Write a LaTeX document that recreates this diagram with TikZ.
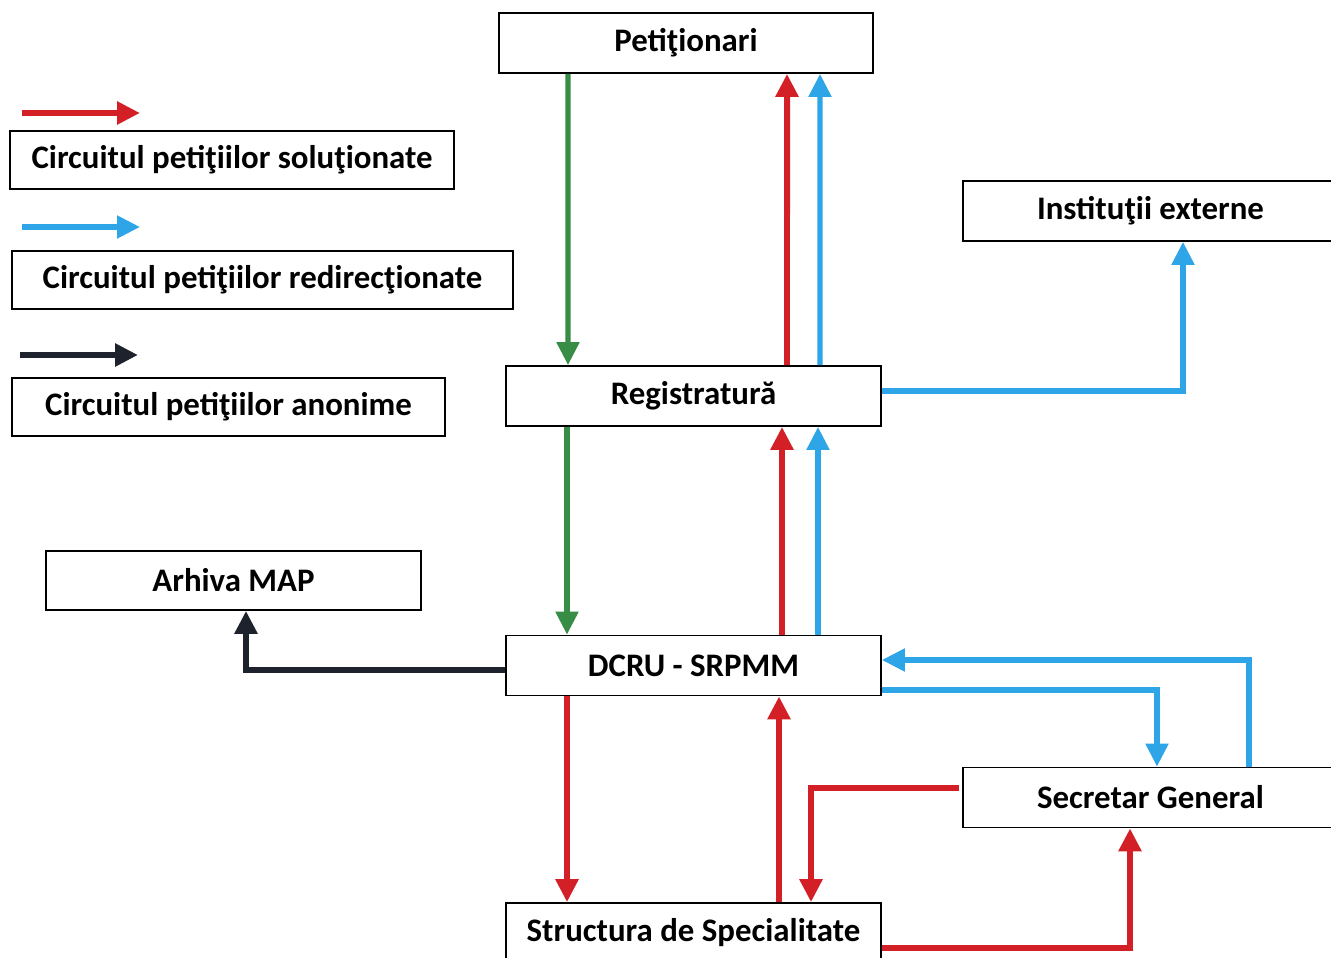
\documentclass[tikz,border=0pt]{standalone}
\usepackage{fontspec}
\setmainfont{Carlito}
\usepackage{tikz}
\usetikzlibrary{arrows.meta, positioning, calc}
\definecolor{solred}{RGB}{210,32,38}
\definecolor{redirblue}{RGB}{45,165,230}
\definecolor{flowgreen}{RGB}{55,140,70}
\definecolor{anonblack}{RGB}{30,34,44}
\tikzset{
  box/.style={rectangle, draw=black, line width=1pt, fill=white, minimum width=7.5cm,
    minimum height=1.2cm, align=center, inner sep=0pt, font=\fontsize{18.7}{22}\selectfont\bfseries},
  legbox/.style={box, minimum height=1.17cm},
  tip/.style={-{Triangle[width=0.44cm, length=0.46cm]}},
  redarr/.style={tip, line width=3.4pt, solred},
  bluearr/.style={tip, line width=2.9pt, redirblue},
  greenarr/.style={tip, line width=2.9pt, flowgreen},
  blackarr/.style={tip, line width=3.4pt, anonblack},
}
\begin{document}
\begin{tikzpicture}
\useasboundingbox (0,0) rectangle (26.62,-19.14);
\clip (0,0) rectangle (26.62,-19.14);

% ── Legend ──
\coordinate (lr1) at (0.44,-2.26);  \coordinate (lr2) at (2.80,-2.26);
\coordinate (lb1) at (0.44,-4.54);  \coordinate (lb2) at (2.80,-4.54);
\coordinate (lk1) at (0.40,-7.10);  \coordinate (lk2) at (2.76,-7.10);
\node[legbox, minimum width=8.88cm] (legsol) at (4.64,-3.20) {Circuitul petiţiilor soluţionate};
\node[legbox, minimum width=10.02cm] (legred) at (5.25,-5.60) {Circuitul petiţiilor redirecţionate};
\node[legbox, minimum width=8.66cm] (leganon) at (4.57,-8.14) {Circuitul petiţiilor anonime};
\draw[redarr] (lr1) -- (lr2);
\draw[bluearr] (lb1) -- (lb2);
\draw[blackarr] (lk1) -- (lk2);

% ── Main column ──
\node[box, minimum width=7.48cm] (pet) at (13.72,-0.86) {Petiţionari};
\node[box] (reg) at (13.87,-7.92) {Registratură};
\node[box] (dcru) at (13.87,-13.31) {DCRU - SRPMM};
\node[box] (struct) at (13.87,-18.66) {Structura de Specialitate};

% ── Side boxes ──
\node[box, minimum height=1.18cm] (arhiva) at (4.67,-11.61) {Arhiva MAP};
\node[box] (inst) at (23.01,-4.22) {Instituţii externe};
\node[box] (secr) at (23.01,-15.95) {Secretar General};

% ── Arrows ──
\draw[greenarr] ([xshift=-2.36cm]pet.south) -- ([xshift=-2.51cm]reg.north);
\draw[redarr] ([xshift=1.87cm]reg.north) -- ([xshift=2.02cm]pet.south);
\draw[bluearr] ([xshift=2.53cm]reg.north) -- ([xshift=2.68cm]pet.south);
\draw[bluearr] ([yshift=0.10cm]reg.east) -| ([xshift=0.65cm]inst.south);
\draw[greenarr] ([xshift=-2.53cm]reg.south) -- ([xshift=-2.53cm]dcru.north);
\draw[redarr] ([xshift=1.77cm]dcru.north) -- ([xshift=1.77cm]reg.south);
\draw[bluearr] ([xshift=2.49cm]dcru.north) -- ([xshift=2.49cm]reg.south);
\draw[blackarr] ([yshift=-0.09cm]dcru.west) -| ([xshift=0.25cm]arhiva.south);
\draw[bluearr] ([xshift=1.97cm]secr.north) |- ([yshift=0.11cm]dcru.east);
\draw[bluearr] ([yshift=-0.49cm]dcru.east) -| ([xshift=0.13cm]secr.north);
\draw[redarr] ([xshift=-2.53cm]dcru.south) -- ([xshift=-2.53cm]struct.north);
\draw[redarr] ([xshift=1.71cm]struct.north) -- ([xshift=1.71cm]dcru.south);
\draw[redarr] ([xshift=-0.06cm,yshift=0.19cm]secr.west) -| ([xshift=2.35cm]struct.north);
\draw[redarr] ([yshift=-0.30cm]struct.east) -| ([xshift=-0.41cm]secr.south);

\end{tikzpicture}
\end{document}
